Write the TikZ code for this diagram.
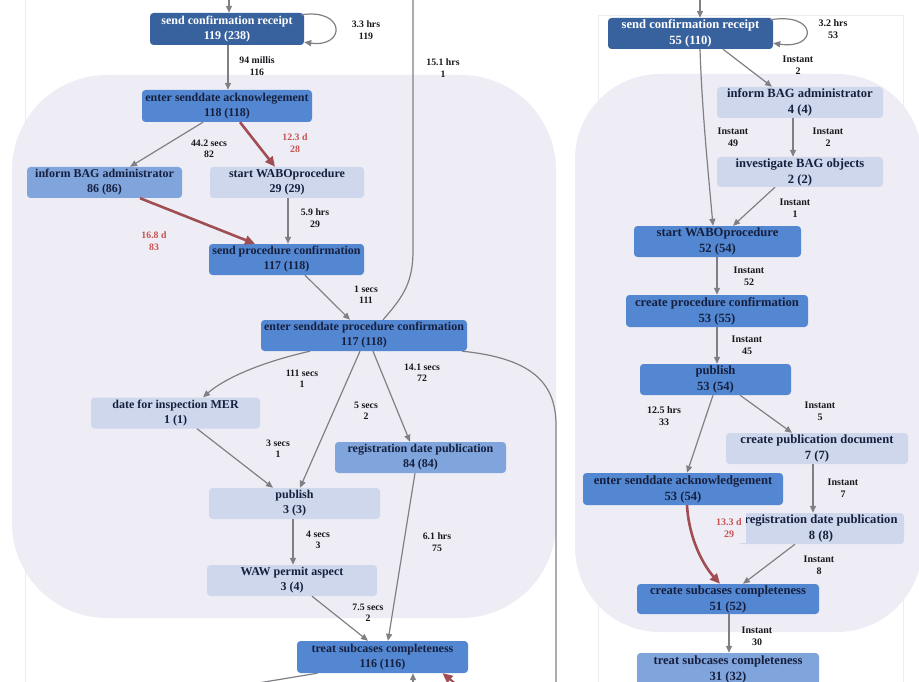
\documentclass[tikz,border=0pt]{standalone}
\usepackage{fontspec}
\setmainfont{Liberation Serif}
\usetikzlibrary{arrows.meta,calc}

\definecolor{dkblue}{RGB}{56,98,158}
\definecolor{mdblue}{RGB}{84,135,210}
\definecolor{ltblue}{RGB}{128,164,220}
\definecolor{paleblue}{RGB}{206,215,235}
\definecolor{clusterfill}{RGB}{238,237,245}
\definecolor{navytext}{RGB}{22,32,62}
\definecolor{edgegray}{RGB}{128,128,132}
\definecolor{hotedge}{RGB}{160,78,84}
\definecolor{hotlabel}{RGB}{200,82,80}
\definecolor{labeltext}{RGB}{24,24,28}
\definecolor{panelline}{RGB}{236,236,240}

\begin{document}
\begin{tikzpicture}[x=1pt,y=-1pt,
  box/.style={rounded corners=3.5pt, inner sep=0pt, align=center,
    font=\bfseries\fontsize{12}{15}\selectfont, text=navytext},
  boxr/.style={box, font=\bfseries\fontsize{12.6}{16}\selectfont},
  dark/.style={fill=dkblue, text=white},
  mid/.style={fill=mdblue},
  light/.style={fill=ltblue},
  pale/.style={fill=paleblue},
  lbl/.style={font=\bfseries\fontsize{9.8}{11.5}\selectfont, align=center,
    inner sep=1pt, text=labeltext},
  lblr/.style={lbl, font=\bfseries\fontsize{10}{11.8}\selectfont},
  hotlbl/.style={text=hotlabel},
  flow/.style={draw=edgegray, line width=1.2pt,
    -{Triangle[length=7pt,width=6pt]}},
  plain/.style={draw=edgegray, line width=1.2pt},
  hot/.style={draw=hotedge, line width=2.6pt,
    -{Triangle[length=10pt,width=9pt]}},
  cluster/.style={fill=clusterfill},
  panel/.style={draw=panelline, line width=0.8pt}
]
\useasboundingbox (0,0) rectangle (919,682);
\clip (0,0) rectangle (919,682);
\fill[white] (0,0) rectangle (919,682);

% panel frames
\draw[panel] (25,0) -- (25,690);
\draw[panel] (598,690) -- (598,15) -- (903,15) -- (903,690);

% clusters
\fill[cluster, rounded corners=95pt] (12,75) rectangle (556,618);
\fill[cluster, rounded corners=85pt] (575,74) rectangle (922,632);

% ---------------- left process map ----------------
\node[box, dark, minimum width=154pt, minimum height=32pt] (scrA) at (227,29)
  {send confirmation receipt\\119 (238)};
\node[box, mid, minimum width=170pt, minimum height=32pt] (esaA) at (227,106)
  {enter senddate acknowlegement\\118 (118)};
\node[box, light, minimum width=155pt, minimum height=31pt] (ibaA) at (104.5,182.5)
  {inform BAG administrator\\86 (86)};
\node[box, pale, minimum width=154pt, minimum height=31pt] (swpA) at (287,182.5)
  {start WABOprocedure\\29 (29)};
\node[box, mid, minimum width=155pt, minimum height=31pt] (spcA) at (286.5,259.5)
  {send procedure confirmation\\117 (118)};
\node[box, mid, minimum width=206pt, minimum height=31pt] (espc) at (364,335.5)
  {enter senddate procedure confirmation\\117 (118)};
\node[box, pale, minimum width=169pt, minimum height=31pt] (dfi) at (175.5,413)
  {date for inspection MER\\1 (1)};
\node[box, light, minimum width=171pt, minimum height=31pt] (rdpA) at (420.5,457.5)
  {registration date publication\\84 (84)};
\node[box, pale, minimum width=171pt, minimum height=31pt] (pubA) at (294.5,503.5)
  {publish\\3 (3)};
\node[box, pale, minimum width=170pt, minimum height=31pt] (waw) at (292,580.5)
  {WAW permit aspect\\3 (4)};
\node[box, mid, minimum width=171pt, minimum height=32pt] (tscA) at (382.5,657)
  {treat subcases completeness\\116 (116)};

\coordinate (inA) at (229,0);
\coordinate (upA) at (413,0);
\coordinate (downA) at (556,690);
\coordinate (outA) at (240,686);
\coordinate (fromA) at (413,690);
\coordinate (fromB) at (466,692);

\draw[flow] (inA) -- ($(scrA.north)+(2,0)$);
\draw[flow] ($(scrA.north east)+(-3,2)$) .. controls (346,8) and (346,48) .. ($(scrA.south east)+(0,-3)$);
\draw[flow] ($(scrA.south)+(1,0)$) -- ($(esaA.north)+(1,0)$);
\draw[flow] ($(esaA.south)+(-24,0)$) -- ($(ibaA.north)+(25.5,0)$);
\draw[hot]  ($(esaA.south)+(13,0)$) -- ($(swpA.north)+(-12,0)$);
\draw[hot]  ($(ibaA.south)+(35.5,0)$) -- ($(spcA.north)+(-31.5,0)$);
\draw[flow] ($(swpA.south)+(1,0)$) -- ($(spcA.north)+(1.5,0)$);
\draw[flow] ($(spcA.south)+(18.5,0)$) -- ($(espc.north)+(-14,0)$);
\draw[flow] ($(espc.south)+(-54,0)$) .. controls (262,362) and (225,378) .. ($(dfi.north)+(27.5,0)$);
\draw[flow] ($(espc.south)+(-4,0)$) -- ($(pubA.north)+(5.5,0)$);
\draw[flow] ($(espc.south)+(9,0)$) -- ($(rdpA.north)+(-10.5,0)$);
\draw[flow] ($(dfi.south)+(21.5,0)$) -- ($(pubA.north)+(-21.5,0)$);
\draw[flow] ($(pubA.south)+(-1.5,0)$) -- ($(waw.north)+(1,0)$);
\draw[flow] ($(waw.south)+(20,0)$) -- ($(tscA.north)+(-14.5,0)$);
\draw[flow] ($(rdpA.south)+(-5.5,0)$) -- ($(tscA.north)+(5.5,0)$);
\draw[plain] ($(espc.north)+(19,0)$) .. controls (404,296) and (413,282) .. (413,250) -- (upA);
\draw[plain] ($(espc.south east)+(-5,0)$) .. controls (528,358) and (556,380) .. (556,425) -- (downA);
\draw[plain] ($(tscA.south)+(-65,0)$) -- (outA);
\draw[flow] (fromA) -- ($(tscA.south)+(30.5,0)$);
\draw[hot, line width=2pt] (fromB) -- ($(tscA.south)+(60,0)$);

\node[lbl] (lA1) at (366,30) {3.3 hrs\\119};
\node[lbl] (lA2) at (257,66) {94 millis\\116};
\node[lbl] (lA3) at (443,68) {15.1 hrs\\1};
\node[lbl] (lA4) at (209,149) {44.2 secs\\82};
\node[lbl, hotlbl] (lA5) at (295,143) {12.3 d\\28};
\node[lbl] (lA6) at (315,218) {5.9 hrs\\29};
\node[lbl, hotlbl] (lA7) at (154,241) {16.8 d\\83};
\node[lbl] (lA8) at (366,295) {1 secs\\111};
\node[lbl] (lA9) at (302,379) {111 secs\\1};
\node[lbl] (lA10) at (422,373) {14.1 secs\\72};
\node[lbl] (lA11) at (366,411) {5 secs\\2};
\node[lbl] (lA12) at (278,449) {3 secs\\1};
\node[lbl] (lA13) at (318,540) {4 secs\\3};
\node[lbl] (lA14) at (437,542) {6.1 hrs\\75};
\node[lbl] (lA15) at (368,613) {7.5 secs\\2};

% ---------------- right process map ----------------
\node[boxr, dark, minimum width=165pt, minimum height=31pt] (scrB) at (690.5,33.5)
  {send confirmation receipt\\55 (110)};
\node[boxr, pale, minimum width=166pt, minimum height=31pt] (ibaB) at (800,102.5)
  {inform BAG administrator\\4 (4)};
\node[boxr, pale, minimum width=166pt, minimum height=30pt] (ibo) at (800,172)
  {investigate BAG objects\\2 (2)};
\node[boxr, mid, minimum width=167pt, minimum height=31pt] (swpB) at (717.5,241.5)
  {start WABOprocedure\\52 (54)};
\node[boxr, mid, minimum width=182pt, minimum height=32pt] (cpc) at (717,311)
  {create procedure confirmation\\53 (55)};
\node[boxr, mid, minimum width=151pt, minimum height=31pt] (pubB) at (715.5,379.5)
  {publish\\53 (54)};
\node[boxr, pale, minimum width=182pt, minimum height=31pt] (cpd) at (817,448.5)
  {create publication document\\7 (7)};
\node[boxr, mid, minimum width=200pt, minimum height=32pt] (esaB) at (683,489)
  {enter senddate acknowledgement\\53 (54)};
\node[boxr, pale, minimum width=166pt, minimum height=31pt] (rdpB) at (821,528.5)
  {registration date publication\\8 (8)};
\node[boxr, mid, minimum width=182pt, minimum height=30pt] (csc) at (728,599)
  {create subcases completeness\\51 (52)};
\node[boxr, light, minimum width=182pt, minimum height=32pt] (tscB) at (728,669)
  {treat subcases completeness\\31 (32)};

\coordinate (inB) at (700,0);

\draw[flow] (inB) -- ($(scrB.north)+(9.5,0)$);
\draw[flow] ($(scrB.north east)+(-3,2)$) .. controls (818,12) and (818,50) .. ($(scrB.south east)+(0,-6)$);
\draw[flow] ($(scrB.south)+(32.5,0)$) -- ($(ibaB.north)+(-28,0)$);
\draw[flow] ($(scrB.south)+(9.5,0)$) .. controls (702,110) and (708,170) .. ($(swpB.north)+(-4.5,0)$);
\draw[flow] ($(ibaB.south)+(-7,0)$) -- ($(ibo.north)+(-7,0)$);
\draw[flow] ($(ibo.south)+(-25,0)$) -- ($(swpB.north)+(15.5,0)$);
\draw[flow] ($(swpB.south)+(-0.5,0)$) -- (cpc.north);
\draw[flow] (cpc.south) -- ($(pubB.north)+(1.5,0)$);
\draw[flow] ($(pubB.south)+(24.5,0)$) -- ($(cpd.north)+(-25,0)$);
\draw[flow] ($(pubB.south)+(-2.5,0)$) -- ($(esaB.north)+(4,0)$);
\draw[flow] ($(cpd.south)+(-4,0)$) -- ($(rdpB.north)+(-8,0)$);
\draw[hot]  ($(esaB.south)+(4,0)$) .. controls (689,540) and (704,566) .. ($(csc.north)+(-8,0)$);
\draw[flow] ($(rdpB.south)+(-26,0)$) -- ($(csc.north)+(15,0)$);
\draw[flow] ($(csc.south)+(1,0)$) -- ($(tscB.north)+(1,0)$);

\node[lblr] (lB1) at (833,29) {3.2 hrs\\53};
\node[lblr] (lB2) at (798,65) {Instant\\2};
\node[lblr] (lB3) at (733,137) {Instant\\49};
\node[lblr] (lB4) at (828,137) {Instant\\2};
\node[lblr] (lB5) at (795,208) {Instant\\1};
\node[lblr] (lB6) at (749,276) {Instant\\52};
\node[lblr] (lB7) at (747,345) {Instant\\45};
\node[lblr] (lB8) at (664,416) {12.5 hrs\\33};
\node[lblr] (lB9) at (820,411) {Instant\\5};
\node[lblr] (lB10) at (843,488) {Instant\\7};
\node[lblr, hotlbl, fill=clusterfill, minimum width=34pt, minimum height=30pt] (lB11) at (729,528) {13.3 d\\29};
\node[lblr] (lB12) at (819,565) {Instant\\8};
\node[lblr] (lB13) at (757,636) {Instant\\30};
\end{tikzpicture}
\end{document}
